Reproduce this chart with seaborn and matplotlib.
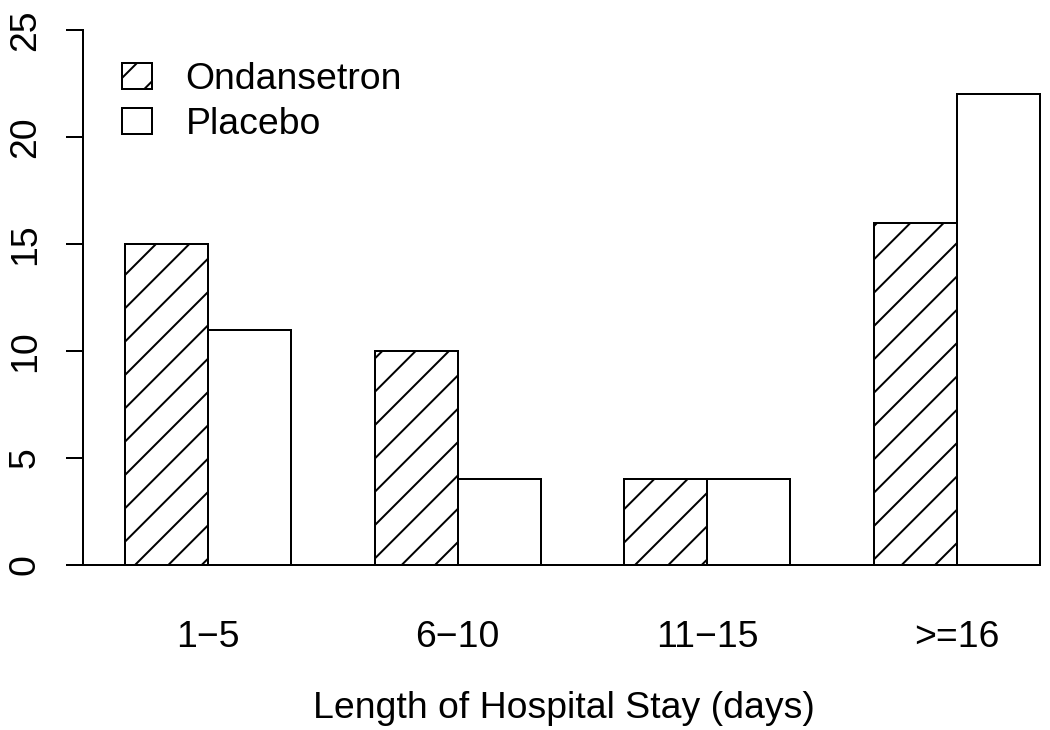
import matplotlib
matplotlib.use("Agg")
import matplotlib.pyplot as plt
import seaborn as sns
import pandas as pd

categories = ["1\u22125", "6\u221210", "11\u221215", ">=16"]
ondansetron = [15, 10, 4, 16]
placebo = [11, 4, 4, 22]
groups = ["Ondansetron", "Placebo"]
y_ticks = [0, 5, 10, 15, 20, 25]
x_label = "Length of Hospital Stay (days)"

df = pd.DataFrame({
    "stay": categories * 2,
    "group": [groups[0]] * len(categories) + [groups[1]] * len(categories),
    "count": ondansetron + placebo,
})

sns.set_style("white")
plt.rcParams["font.family"] = ["Liberation Sans", "DejaVu Sans"]
plt.rcParams["hatch.linewidth"] = 1.44
plt.rcParams["hatch.color"] = "black"
plt.rcParams["text.color"] = "black"
plt.rcParams["xtick.color"] = "black"
plt.rcParams["ytick.color"] = "black"
plt.rcParams["axes.labelcolor"] = "black"

FS = 26.9
LW = 1.44
fig = plt.figure(figsize=(10.5, 7.3), dpi=100)
ax = fig.add_axes([83 / 1050, 0.1967, 961.5 / 1050, 0.7915])

sns.barplot(data=df, x="stay", y="count", hue="group", order=categories,
            hue_order=groups, palette=["white", "white"], edgecolor="black",
            linewidth=LW, width=0.665, dodge=True, gap=0, saturation=1,
            errorbar=None, ax=ax)

for p in ax.containers[0].patches:
    p.set_hatch("/")

if ax.get_legend() is not None:
    ax.get_legend().remove()

ax.set_xlim(-0.5, 3.35)
ax.set_ylim(-1, 26)
ax.set_yticks(y_ticks)
ax.set_yticklabels([str(v) for v in y_ticks], rotation=90, va="center", fontsize=FS)
ax.tick_params(axis="y", left=True, length=12.2, width=LW, pad=16.6, colors="black")
ax.tick_params(axis="x", bottom=False, length=0, pad=39.6, labelsize=FS, colors="black")

for s in ["top", "right"]:
    ax.spines[s].set_visible(False)
ax.spines["left"].set_bounds(0, 25)
ax.spines["left"].set_linewidth(LW)
ax.spines["left"].set_color("black")
ax.spines["bottom"].set_position(("data", 0))
ax.spines["bottom"].set_bounds(-0.5, 3.3325)
ax.spines["bottom"].set_linewidth(LW)
ax.spines["bottom"].set_color("black")

ax.set_ylabel("")
ax.set_xlabel(x_label, fontsize=FS, labelpad=0, color="black")
ax.xaxis.set_label_coords(0.5, -0.1813)

leg = ax.legend(handles=[ax.containers[0], ax.containers[1]], labels=groups,
                loc="upper left", bbox_to_anchor=(0.0406, 0.9075), frameon=False,
                fontsize=FS, borderpad=0, borderaxespad=0, handlelength=0.8,
                handleheight=0.67, handletextpad=0.9, labelspacing=0.27)
for t in leg.get_texts():
    t.set_color("black")

fig.savefig("out.png", dpi=100, facecolor="white")
